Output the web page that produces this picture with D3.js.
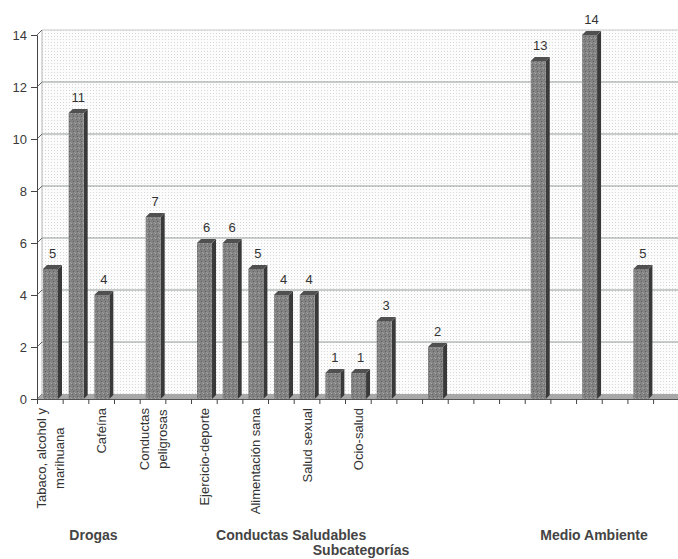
<!DOCTYPE html>
<html>
<head>
<meta charset="utf-8">
<script src="https://cdn.jsdelivr.net/npm/d3@7/dist/d3.min.js"></script>
<style>
  body { margin: 0; background: #fff; }
  text { font-family: "Liberation Sans", Arial, sans-serif; }
</style>
</head>
<body>
<div id="chart"></div>
<script>
// Data (one bar per subcategory slot; Excel only shows every other label)
const categoryLines = [
  ['Tabaco, alcohol y', 'marihuana'], [], ['Cafeína'], [], ['Conductas', 'peligrosas'], [],
  ['Ejercicio-deporte'], [], ['Alimentación sana'], [], ['Salud sexual'], [], ['Ocio-salud'],
  [], [], [], [], [], [], [], [], [], [], [], []
];
const values = [5, 11, 4, 0, 7, 0, 6, 6, 5, 4, 4, 1, 1, 3, 0, 2, 0, 0, 0, 13, 0, 14, 0, 5, 0];
const yTicks = [0, 2, 4, 6, 8, 10, 12, 14];
const groupNames = ['Drogas', 'Conductas Saludables', 'Medio Ambiente'];
const groupCenters = [2.2, 9.9, 21.7];   // in slot units from the left of the axis
const axisTitle = 'Subcategorías';

const W = 678, H = 559;
const left = 37, right = 37 + 25 * 25.67;
const depth = 5;

const svg = d3.select('#chart').append('svg')
  .attr('width', W).attr('height', H);

const defs = svg.append('defs');
const dots = defs.append('pattern').attr('id', 'dots')
  .attr('width', 3).attr('height', 3).attr('patternUnits', 'userSpaceOnUse');
dots.append('rect').attr('width', 3).attr('height', 3).attr('fill', '#fcfcfc');
dots.append('rect').attr('width', 1).attr('height', 1).attr('fill', '#d8d8d8');

const speck = defs.append('pattern').attr('id', 'speck')
  .attr('width', 4).attr('height', 5).attr('patternUnits', 'userSpaceOnUse');
speck.append('rect').attr('width', 4).attr('height', 5).attr('fill', '#838383');
speck.append('rect').attr('x', 1).attr('y', 1).attr('width', 1).attr('height', 1).attr('fill', '#5e5e5e');
speck.append('rect').attr('x', 3).attr('y', 3).attr('width', 1).attr('height', 1).attr('fill', '#a8a8a8');
speck.append('rect').attr('x', 0).attr('y', 4).attr('width', 1).attr('height', 1).attr('fill', '#6a6a6a');
speck.append('rect').attr('x', 2).attr('y', 2).attr('width', 1).attr('height', 1).attr('fill', '#9a9a9a');

const idx = d3.range(values.length);
const x = d3.scaleBand().domain(idx).range([left, right]);
const xs = d3.scaleLinear().domain([0, values.length]).range([left, right]);
const y = d3.scaleLinear().domain([0, 14]).range([399, 35]);

// back wall
svg.append('rect')
  .attr('x', left + depth).attr('y', y(14) - depth)
  .attr('width', W - left - depth).attr('height', y(0) - y(14))
  .attr('fill', 'url(#dots)');

svg.append('line')
  .attr('x1', left + depth).attr('x2', left + depth)
  .attr('y1', y(14) - depth).attr('y2', y(0) - depth)
  .attr('stroke', '#b5b5b5');

// gridlines on the wall
svg.selectAll('.grid').data(yTicks.filter(d => d > 0)).join('line')
  .attr('class', 'grid')
  .attr('x1', left + depth).attr('x2', W)
  .attr('y1', d => y(d) - depth).attr('y2', d => y(d) - depth)
  .attr('stroke', d => d === 14 ? '#c8cccc' : '#8f9c9c')
  .attr('stroke-width', 1.2);

svg.selectAll('.diag').data(yTicks).join('line')
  .attr('class', 'diag')
  .attr('x1', left).attr('x2', left + depth)
  .attr('y1', d => y(d)).attr('y2', d => y(d) - depth)
  .attr('stroke', '#666');

// floor
svg.append('polygon')
  .attr('points', [[left, y(0)], [W, y(0)], [W, y(0) - depth], [left + depth, y(0) - depth]].join(' '))
  .attr('fill', '#a8a8a8');

// y axis
const yAxisG = svg.append('g')
  .attr('transform', `translate(${left},0)`)
  .call(d3.axisLeft(y).tickValues(yTicks).tickSize(6).tickPadding(4));
yAxisG.select('.domain').attr('stroke', '#444');
yAxisG.selectAll('.tick line').attr('stroke', '#444');
yAxisG.selectAll('.tick text')
  .attr('font-size', 13).attr('fill', '#3a3a3a')
  .style('font-family', '"Liberation Sans", Arial, sans-serif');

// x axis (ticks on slot boundaries)
const xAxisG = svg.append('g')
  .attr('transform', `translate(0,${y(0)})`)
  .call(d3.axisBottom(xs).tickValues(d3.range(0, values.length + 1)).tickFormat('').tickSize(5).tickSizeOuter(0));
xAxisG.select('.domain').attr('stroke', '#555');
xAxisG.selectAll('.tick line').attr('stroke', '#444');

// bars
const bars = svg.selectAll('.bar').data(idx.filter(i => values[i] > 0)).join('g').attr('class', 'bar');
const bx = i => x(i) + 6, bw = 15;

bars.append('polygon')
  .attr('points', i => [[bx(i) + bw, y(values[i])], [bx(i) + bw + 4, y(values[i]) - 4],
                        [bx(i) + bw + 4, y(0) - 4], [bx(i) + bw, y(0)]].join(' '))
  .attr('fill', '#393939');
bars.append('polygon')
  .attr('points', i => [[bx(i), y(values[i])], [bx(i) + 4, y(values[i]) - 4],
                        [bx(i) + bw + 4, y(values[i]) - 4], [bx(i) + bw, y(values[i])]].join(' '))
  .attr('fill', '#505050');
bars.append('rect')
  .attr('x', bx).attr('width', bw)
  .attr('y', i => y(values[i]))
  .attr('height', i => y(0) - y(values[i]))
  .attr('fill', 'url(#speck)');

// value labels
svg.selectAll('.val').data(idx.filter(i => values[i] > 0)).join('text')
  .attr('class', 'val')
  .attr('x', i => bx(i) + bw / 2 + 2)
  .attr('y', i => y(values[i]) - 11)
  .attr('text-anchor', 'middle')
  .attr('font-size', 13).attr('fill', '#333')
  .text(i => values[i]);

// category labels, rotated
const catG = svg.selectAll('.cat').data(idx.filter(i => categoryLines[i].length)).join('g')
  .attr('class', 'cat')
  .attr('transform', i => `translate(${x(i) + x.bandwidth() / 2},408) rotate(-90)`);

catG.each(function (i) {
  const g = d3.select(this);
  const lines = categoryLines[i];
  const n = lines.length;
  const ts = lines.map((ln, k) => g.append('text')
    .attr('font-size', 13).attr('fill', '#333')
    .attr('y', (k - (n - 1) / 2) * 18 + 5)
    .text(ln));
  const maxLen = d3.max(ts, t => t.node().getComputedTextLength());
  ts.forEach(t => t.attr('x', -maxLen / 2).attr('text-anchor', 'middle'));
});

// group labels
svg.selectAll('.grp').data(groupNames).join('text')
  .attr('class', 'grp')
  .attr('x', (d, k) => xs(groupCenters[k]))
  .attr('y', 540)
  .attr('text-anchor', 'middle')
  .attr('font-size', 14).attr('font-weight', 'bold').attr('fill', '#444')
  .text(d => d);

svg.append('text')
  .attr('x', 361).attr('y', 555)
  .attr('text-anchor', 'middle')
  .attr('font-size', 14).attr('font-weight', 'bold').attr('fill', '#444')
  .text(axisTitle);
</script>
</body>
</html>
